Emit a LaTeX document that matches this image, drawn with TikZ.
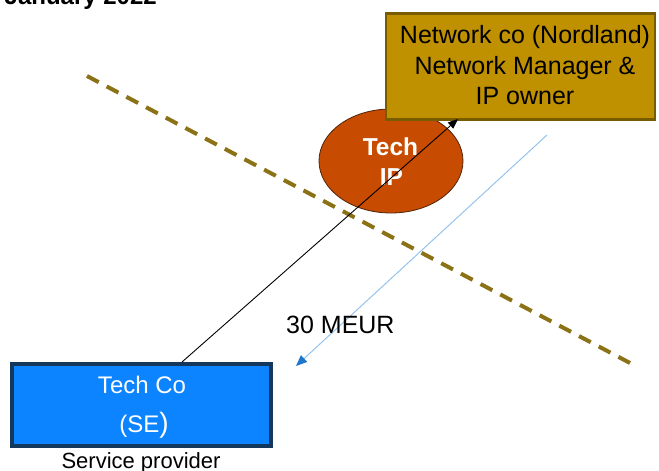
\documentclass[tikz,border=0pt]{standalone}
\usepackage{fontspec}
\setmainfont{Liberation Sans}
\usetikzlibrary{arrows.meta,shapes.geometric,calc}

\definecolor{goldfill}{RGB}{191,144,0}
\definecolor{goldedge}{RGB}{120,92,0}
\definecolor{dashgold}{RGB}{140,114,22}
\definecolor{ipfill}{RGB}{199,75,0}
\definecolor{ipedge}{RGB}{80,36,10}
\definecolor{techfill}{RGB}{12,132,255}
\definecolor{techedge}{RGB}{20,56,92}
\definecolor{flowline}{RGB}{150,195,235}
\definecolor{flowhead}{RGB}{30,118,205}

\tikzset{
  netbox/.style={draw=goldedge, fill=goldfill, line width=2.5pt, inner sep=0pt},
  techbox/.style={draw=techedge, fill=techfill, line width=4pt, inner sep=0pt},
  ipoval/.style={ellipse, draw=ipedge, fill=ipfill, line width=0.8pt, inner sep=0pt},
  bigtext/.style={font=\fontsize{25}{30}\selectfont, inner sep=0pt, anchor=base},
  techtext/.style={font=\fontsize{24}{30}\selectfont, text=white, inner sep=0pt, anchor=base},
  iptext/.style={font=\bfseries\fontsize{24.5}{30}\selectfont, text=white, inner sep=0pt, anchor=base},
  border/.style={draw=dashgold, line width=4pt, dash pattern=on 13.26pt off 9pt},
  payment/.style={draw=flowline, line width=1pt, -{Triangle[length=11pt,width=9pt,color=flowhead]}},
  ipflow/.style={draw=black, line width=0.9pt, -{Triangle[length=10pt,width=8pt]}}
}

\begin{document}
\begin{tikzpicture}[x=1pt,y=-1pt]
\useasboundingbox (0,0) rectangle (659,471);
\clip (0,0) rectangle (659,471);

% heading, running off the top edge
\node[font=\bfseries\fontsize{24}{28}\selectfont, anchor=base east, inner sep=0pt] (title) at (157,5) {January 2022};

% dashed border between the two countries
\coordinate (borderA) at (87,76);
\coordinate (borderB) at (630,363);
\draw[border] (borderA) -- (borderB);

% the intellectual property
\node[ipoval, minimum width=144pt, minimum height=104pt] (ip) at (391,161) {};
\node[iptext] (iptech) at (390.5,155) {Tech};
\node[iptext] (ipip) at (391.5,185) {IP};

% network company
\node[netbox, minimum width=269pt, minimum height=106pt] (net) at (520.5,66.5) {};
\node[bigtext] (net1) at (525,43.5) {Network co (Nordland)};
\node[bigtext] (net2) at (525,74) {Network Manager \&};
\node[bigtext] (net3) at (525,104) {IP owner};

% service provider
\node[techbox, minimum width=259pt, minimum height=82pt] (tech) at (141.5,405) {};
\node[techtext] (tech1) at (142,393) {Tech Co};
\node[techtext] (tech2) at (144,432) {(SE\fontsize{28}{30}\selectfont)};
\node[font=\fontsize{22}{26}\selectfont, anchor=base, inner sep=0pt] (role) at (141,468) {Service provider};

% transfer of the IP and the payment back
\coordinate (iptip) at (458,119);
\draw[ipflow] ($(tech.north)+(40.5,0)$) -- (iptip);

\coordinate (payfrom) at (547,135);
\coordinate (payto) at (296,366);
\draw[payment] (payfrom) -- (payto);
\node[bigtext, anchor=base west] (price) at (286,333) {30 MEUR};
\end{tikzpicture}
\end{document}
